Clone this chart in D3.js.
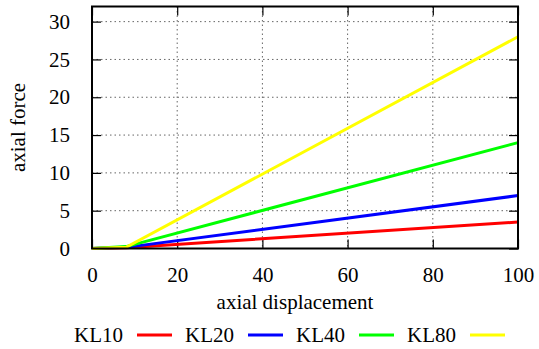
<!DOCTYPE html>
<html>
<head>
<meta charset="utf-8">
<script src="https://cdn.jsdelivr.net/npm/d3@7"></script>
<style>
  body { margin: 0; background: white; }
  svg text { font-family: "Liberation Serif", "Times New Roman", serif !important; fill: black; }
</style>
</head>
<body>
<svg id="chart" width="539" height="349"></svg>
<script>
// data
const displacement = [0, 8, 100];
const kl10 = [0, 0.1, 3.5];
const kl20 = [0, 0.15, 7];
const kl40 = [0, 0.25, 14];
const kl80 = [0, 0.15, 28];
const seriesNames = ["KL10", "KL20", "KL40", "KL80"];
const seriesColors = ["#ff0000", "#0000ff", "#00ff00", "#ffff00"];
const xTicks = [0, 20, 40, 60, 80, 100];
const yTicks = [0, 5, 10, 15, 20, 25, 30];

const series = [kl10, kl20, kl40, kl80].map((vals, i) => ({
    name: seriesNames[i],
    color: seriesColors[i],
    points: vals.map((v, j) => [displacement[j], v])
}));

const svg = d3.select("#chart");
const pLeft = 92, pRight = 518, pTop = 6.5, pBottom = 248.5;
const serif = "'Liberation Serif', serif";
const fontSize = "21px";

const x = d3.scaleLinear().domain([0, 100]).range([pLeft, pRight]);
const y = d3.scaleLinear().domain([0, 32]).range([pBottom, pTop]);

// grid
const grid = svg.append("g").attr("class", "grid")
    .attr("stroke", "#666").attr("stroke-width", 1).attr("stroke-dasharray", "1.5,3");
xTicks.slice(1, -1).forEach(t => {
    grid.append("line")
        .attr("x1", x(t)).attr("x2", x(t))
        .attr("y1", pTop).attr("y2", pBottom);
});
yTicks.slice(1).forEach(t => {
    grid.append("line")
        .attr("x1", pLeft).attr("x2", pRight)
        .attr("y1", y(t)).attr("y2", y(t));
});

// axes, ticks pointing inward, mirrored on top/right
const tickLen = 9;

const xAxis = svg.append("g")
    .attr("transform", `translate(0,${pBottom})`)
    .call(d3.axisBottom(x).tickValues(xTicks).tickSize(-tickLen).tickPadding(tickLen + 10));
const xAxisTop = svg.append("g")
    .attr("transform", `translate(0,${pTop})`)
    .call(d3.axisTop(x).tickValues(xTicks).tickSize(-tickLen).tickFormat(""));
const yAxis = svg.append("g")
    .attr("transform", `translate(${pLeft},0)`)
    .call(d3.axisLeft(y).tickValues(yTicks).tickSize(-tickLen).tickPadding(tickLen + 13));
const yAxisRight = svg.append("g")
    .attr("transform", `translate(${pRight},0)`)
    .call(d3.axisRight(y).tickValues(yTicks).tickSize(-tickLen).tickFormat(""));

[xAxis, xAxisTop, yAxis, yAxisRight].forEach(a => {
    a.attr("font-family", serif).attr("font-size", fontSize);
    a.select(".domain").remove();
    a.selectAll(".tick line").attr("stroke", "black").attr("stroke-width", 1.2);
    a.selectAll("text").attr("fill", "black");
});

// lines
const line = d3.line().x(d => x(d[0])).y(d => y(d[1]));
svg.append("g").selectAll("path")
    .data(series)
    .join("path")
    .attr("d", d => line(d.points))
    .attr("fill", "none")
    .attr("stroke", d => d.color)
    .attr("stroke-width", 3);

// frame
svg.append("rect")
    .attr("x", pLeft).attr("y", pTop)
    .attr("width", pRight - pLeft).attr("height", pBottom - pTop)
    .attr("fill", "none").attr("stroke", "black").attr("stroke-width", 2);

// axis titles
svg.append("text")
    .attr("x", 295).attr("y", 309)
    .attr("text-anchor", "middle")
    .attr("font-family", serif).attr("font-size", fontSize)
    .text("axial displacement");

svg.append("text")
    .attr("transform", `translate(25,${(pTop + pBottom) / 2}) rotate(-90)`)
    .attr("text-anchor", "middle")
    .attr("font-family", serif).attr("font-size", fontSize)
    .text("axial force");

// legend
const legend = svg.append("g").selectAll("g")
    .data(series)
    .join("g")
    .attr("transform", (d, i) => `translate(${123 + i * 111},335)`);
legend.append("text")
    .attr("x", 0).attr("y", 7)
    .attr("text-anchor", "end")
    .attr("font-family", serif).attr("font-size", fontSize)
    .text(d => d.name);
legend.append("line")
    .attr("x1", 14).attr("x2", 49)
    .attr("y1", 0).attr("y2", 0)
    .attr("stroke", d => d.color)
    .attr("stroke-width", 3);
</script>
</body>
</html>
